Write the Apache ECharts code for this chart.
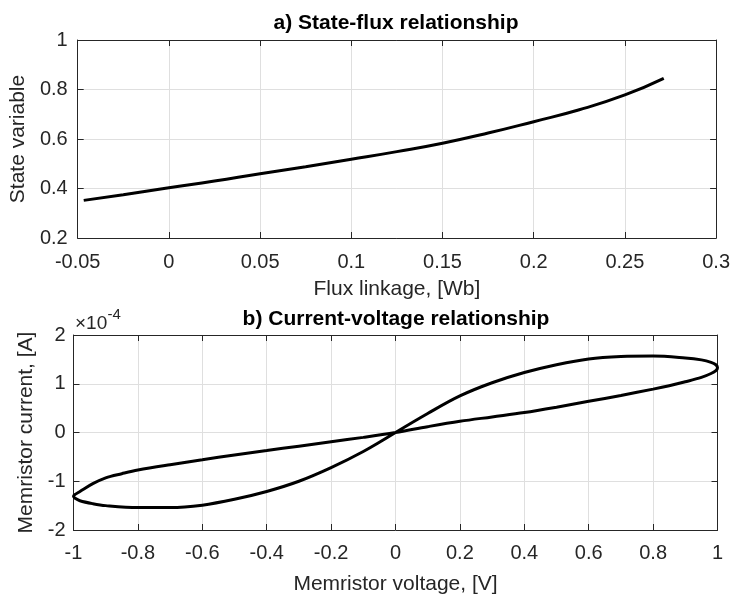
<!DOCTYPE html>
<html>
<head>
<meta charset="utf-8">
<script src="https://cdn.jsdelivr.net/npm/echarts@6/dist/echarts.min.js"></script>
<style>html,body{margin:0;padding:0;background:#fff}#c{width:733px;height:596px}</style>
</head>
<body>
<div id="c"></div>
<script>
// ---- Data ----
// a) State-flux relationship
const fluxLinkage   = [-0.0467, -0.025, 0, 0.025, 0.05, 0.075, 0.1, 0.125, 0.15, 0.175, 0.2, 0.225, 0.25, 0.2713];
const stateVariable = [0.352, 0.375, 0.403, 0.430, 0.460, 0.488, 0.518, 0.549, 0.583, 0.624, 0.670, 0.718, 0.778, 0.845];

// b) Current-voltage relationship (current in units of 1e-4 A), in loop order
const memristorVoltage = [0, 0.1, 0.2, 0.3, 0.4, 0.5, 0.6, 0.7, 0.8, 0.9, 0.95, 0.98, 0.995, 1.0,
  0.995, 0.98, 0.95, 0.9, 0.85, 0.8, 0.7, 0.6, 0.5, 0.4, 0.3, 0.2, 0.1, 0,
  -0.1, -0.2, -0.3, -0.4, -0.5, -0.6, -0.7, -0.8, -0.85, -0.9, -0.94, -0.98, -0.995, -1.0,
  -0.995, -0.98, -0.94, -0.9, -0.8, -0.7, -0.6, -0.5, -0.4, -0.3, -0.2, -0.1, 0];
const memristorCurrent = [0, 0.39, 0.75, 1.02, 1.23, 1.39, 1.51, 1.56, 1.57, 1.53, 1.49, 1.44, 1.39, 1.33,
  1.27, 1.21, 1.13, 1.04, 0.96, 0.89, 0.76, 0.64, 0.52, 0.41, 0.32, 0.23, 0.12, 0,
  -0.10, -0.19, -0.28, -0.37, -0.46, -0.56, -0.66, -0.77, -0.845, -0.93, -1.05, -1.21, -1.27, -1.31,
  -1.35, -1.40, -1.46, -1.50, -1.54, -1.54, -1.49, -1.37, -1.21, -1.00, -0.72, -0.39, 0];

// Axis ranges / tick steps
const fluxTicks = {min: -0.05, max: 0.3, interval: 0.05};
const stateTicks = {min: 0.2, max: 1, interval: 0.2};
const voltTicks = {min: -1, max: 1, interval: 0.2};
const currTicks = {min: -2, max: 2, interval: 1};

const titles = ['a) State-flux relationship', 'b) Current-voltage relationship'];
const axisNames = {
  flux: 'Flux linkage, [Wb]', state: 'State variable',
  volt: 'Memristor voltage, [V]', curr: 'Memristor current, [A]'
};

// ---- Chart ----
const FONT = '"Liberation Sans", Arial, Helvetica, sans-serif';
const AX = '#262626';
const fmt = v => String(parseFloat(v.toFixed(2)));

function mainAxis(t, extra) {
  return Object.assign({
    type: 'value', min: t.min, max: t.max, interval: t.interval,
    axisLine: {show: true, onZero: false, lineStyle: {color: AX, width: 1}},
    axisTick: {show: true, inside: true, length: 6, lineStyle: {color: AX}},
    axisLabel: {show: true, color: AX, fontSize: 20, fontFamily: FONT, formatter: fmt, showMinLabel: true, showMaxLabel: true},
    splitLine: {show: true, lineStyle: {color: '#dfdfdf', width: 1}},
    nameLocation: 'middle',
    nameTextStyle: {color: AX, fontSize: 21, fontFamily: FONT}
  }, extra);
}
function boxAxis(t, extra) {
  return Object.assign({
    type: 'value', min: t.min, max: t.max, interval: t.interval,
    axisLine: {show: true, onZero: false, lineStyle: {color: AX, width: 1}},
    axisTick: {show: true, inside: true, length: 6, lineStyle: {color: AX}},
    axisLabel: {show: false},
    splitLine: {show: false}
  }, extra);
}

const chart = echarts.init(document.getElementById('c'), null, {renderer: 'canvas'});
chart.setOption({
  animation: false,
  backgroundColor: '#fff',
  grid: [
    {left: 74, top: 40, width: 644, height: 198},
    {left: 73.5, top: 335, width: 644, height: 198}
  ],
  xAxis: [
    mainAxis(fluxTicks, {gridIndex: 0, position: 'bottom', name: axisNames.flux, nameGap: 41,
      axisLabel: {color: AX, fontSize: 20, fontFamily: FONT, formatter: fmt, margin: 14, showMinLabel: true, showMaxLabel: true}}),
    boxAxis(fluxTicks, {gridIndex: 0, position: 'top'}),
    mainAxis(voltTicks, {gridIndex: 1, position: 'bottom', name: axisNames.volt, nameGap: 44,
      axisLabel: {color: AX, fontSize: 20, fontFamily: FONT, formatter: fmt, margin: 13, showMinLabel: true, showMaxLabel: true}}),
    boxAxis(voltTicks, {gridIndex: 1, position: 'top'})
  ],
  yAxis: [
    mainAxis(stateTicks, {gridIndex: 0, position: 'left', name: axisNames.state, nameGap: 44,
      axisLabel: {color: AX, fontSize: 20, fontFamily: FONT, formatter: fmt, margin: 10, showMinLabel: true, showMaxLabel: true}}),
    boxAxis(stateTicks, {gridIndex: 0, position: 'right'}),
    mainAxis(currTicks, {gridIndex: 1, position: 'left', name: axisNames.curr, nameGap: 33,
      axisLabel: {color: AX, fontSize: 20, fontFamily: FONT, formatter: fmt, margin: 8, showMinLabel: true, showMaxLabel: true}}),
    boxAxis(currTicks, {gridIndex: 1, position: 'right'})
  ],
  graphic: [
    {type: 'text', x: 396, y: 13, style: {text: titles[0], font: 'bold 21px ' + FONT, fill: '#000', align: 'center', verticalAlign: 'top'}},
    {type: 'text', x: 396, y: 308.5, style: {text: titles[1], font: 'bold 21px ' + FONT, fill: '#000', align: 'center', verticalAlign: 'top'}},
    {type: 'text', x: 75, y: 313.8, style: {text: '×10', font: '19px ' + FONT, fill: AX, align: 'left', verticalAlign: 'top'}},
    {type: 'text', x: 107.5, y: 307.2, style: {text: '-4', font: '15px ' + FONT, fill: AX, align: 'left', verticalAlign: 'top'}}
  ],
  series: [
    {
      type: 'line', xAxisIndex: 0, yAxisIndex: 0, smooth: true, showSymbol: false,
      lineStyle: {color: '#000', width: 3}, z: 5,
      data: fluxLinkage.map((x, i) => [x, stateVariable[i]])
    },
    {
      type: 'line', xAxisIndex: 2, yAxisIndex: 2, smooth: 0.35, showSymbol: false,
      lineStyle: {color: '#000', width: 3}, z: 5,
      data: memristorVoltage.map((v, i) => [v, memristorCurrent[i]])
    }
  ]
});
</script>
</body>
</html>
